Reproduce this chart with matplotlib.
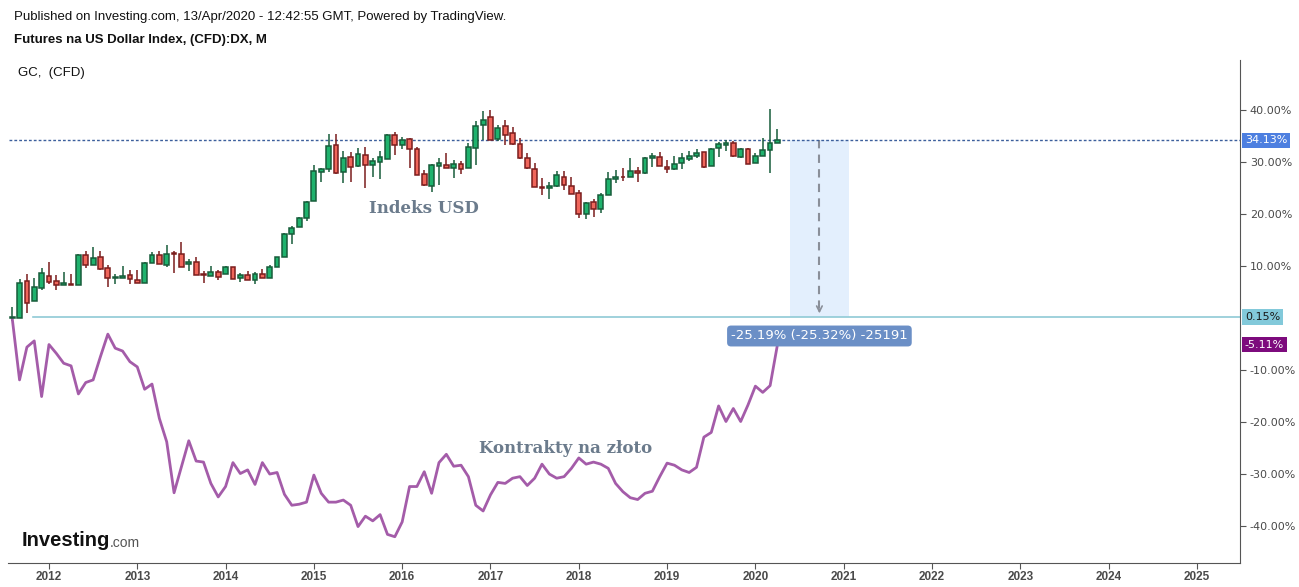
import matplotlib
matplotlib.use("Agg")
import matplotlib.pyplot as plt
import numpy as np
import pandas as pd

# monthly bars, Aug 2011 .. Apr 2020, values in % change
months = pd.date_range("2011-08-01", periods=105, freq="MS")

usd_open = [0, 0.06, 7.05, 3.2, 5.8, 8.0, 7.05, 6.3, 6.5, 6.3, 12.2, 10.1, 11.7, 9.55, 7.75, 7.75, 8.2, 7.25, 6.7, 10.5,
            12.05, 10.1, 12.5, 12.4, 10.3, 10.7,
            8.35, 8.15, 8.8, 8.4, 9.75, 7.6, 8.2, 7.25, 8.45, 7.6, 9.9, 11.65, 16.1, 17.45, 19.2, 22.4, 28.0, 28.6, 33.2, 28.0,
            30.9, 29.2, 31.3, 29.35, 29.9, 30.5, 35.1,
            33.2, 34.5, 32.4, 27.6, 25.3, 29.2, 29.35, 28.8, 29.55, 28.8, 32.6, 37.05, 38.6, 34.35, 36.9, 35.5, 33.4, 30.7,
            28.6, 25.1, 24.9, 25.3, 27.2, 25.3, 24.0, 19.9,
            22.25, 20.9, 23.6, 26.7, 27.2, 27.2, 28.2, 27.8, 30.7, 30.9, 29.0, 28.6, 29.75, 30.5, 31.1, 31.9, 29.2, 32.6,
            33.2, 33.6, 30.9, 32.4, 29.75, 31.1, 32.25, 33.6]
usd_close = [0, 6.7, 2.8, 5.9, 8.6, 7.0, 6.3, 6.7, 6.3, 12.05, 10.1, 11.5, 9.5, 7.75, 7.8, 8.0, 7.55, 6.8, 10.5, 12.05,
             10.3, 12.4, 12.4, 9.9, 10.7, 8.2,
             8.3, 8.8, 7.95, 9.75, 7.45, 8.2, 7.25, 8.4, 7.6, 9.9, 11.65, 16.1, 17.25, 19.2, 22.25, 28.2, 28.6, 33.0, 27.8,
             30.7, 29.0, 31.5, 29.35, 30.1, 30.9, 35.1, 33.2,
             34.3, 32.4, 27.55, 25.5, 29.35, 29.75, 28.8, 29.55, 28.6, 32.8, 36.9, 38.0, 34.2, 36.5, 35.1, 33.4, 30.7,
             28.8, 25.1, 24.9, 25.3, 27.4, 25.5, 23.8, 19.9, 22.05,
             21.0, 23.6, 26.7, 27.2, 27.05, 28.2, 27.8, 30.7, 31.15, 29.2, 28.6, 29.55, 30.7, 31.1, 31.7, 29.0, 32.4,
             33.4, 33.6, 31.1, 32.4, 29.55, 31.1, 32.25, 33.6, 34.13]
usd_high = [2.2, 7.5, 8.5, 7.6, 9.55, 10.7, 8.3, 8.8, 8.5, 12.3, 12.8, 13.65, 12.8, 10.2, 8.5, 10.0, 9.2, 9.2, 10.7, 12.6,
            12.9, 14.0, 12.8, 14.55, 11.35, 11.7,
            9.0, 10.0, 9.2, 10.0, 9.75, 8.6, 9.0, 8.8, 9.35, 10.2, 11.65, 16.4, 17.6, 19.35, 22.4, 29.35, 28.8, 35.4, 35.4,
            32.05, 31.9, 32.7, 32.8, 30.7, 32.05, 35.3, 35.7,
            34.75, 34.7, 32.95, 28.4, 29.55, 30.7, 31.7, 30.3, 30.1, 33.6, 37.8, 39.7, 40.0, 37.2, 38.0, 36.7, 34.55, 31.7,
            29.75, 26.9, 26.1, 28.2, 28.2, 27.05, 24.55, 22.25,
            22.8, 24.0, 28.0, 28.4, 28.8, 30.7, 29.0, 30.9, 31.7, 31.9, 30.3, 31.1, 31.7, 32.2, 32.4, 31.9, 32.6, 33.8,
            34.2, 34.0, 32.6, 32.6, 31.7, 34.55, 40.1, 36.3]
usd_low = [-0.5, 0.0, 1.0, 3.2, 5.45, 6.5, 5.45, 6.3, 6.3, 6.3, 9.7, 10.1, 9.3, 6.0, 6.6, 7.75, 6.6, 6.8, 6.7, 10.5,
           10.3, 9.9, 8.7, 9.9, 9.1, 8.2,
           6.8, 8.15, 7.4, 8.4, 7.45, 7.0, 7.25, 6.6, 7.6, 7.6, 9.75, 11.65, 14.2, 17.45, 18.6, 22.4, 26.1, 28.0, 27.6,
           25.9, 26.1, 29.0, 24.9, 27.2, 26.7, 30.5, 31.3,
           32.4, 28.8, 27.4, 25.4, 24.2, 25.6, 28.8, 27.0, 27.6, 28.8, 29.5, 34.2, 34.2, 34.0, 33.2, 33.2, 30.5, 28.6,
           25.1, 23.6, 22.8, 25.1, 24.7, 23.8, 19.2, 19.0,
           19.5, 20.1, 23.6, 25.9, 26.3, 27.2, 26.1, 27.6, 29.0, 29.2, 27.8, 28.4, 28.6, 30.1, 30.7, 28.8, 29.2, 30.9,
           32.05, 30.9, 30.7, 29.55, 29.75, 31.1, 27.8, 33.6]
gold = [0, -11.9, -5.6, -4.4, -15.1, -5.1, -6.8, -8.7, -9.2, -14.6, -12.4, -11.9, -7.4, -3.1, -5.8, -6.35, -8.4, -9.4,
        -13.7, -12.7, -19.3, -23.8, -33.6, -28.6, -23.6, -27.5,
        -27.7, -31.8, -34.4, -32.4, -27.8, -29.9, -29.2, -32.0, -27.8, -30.0, -29.7, -33.9, -36.0, -35.8, -35.4, -30.2,
        -33.7, -35.4, -35.4, -35.0, -36.0, -40.1, -38.1, -39.0, -37.8, -41.6, -42.05,
        -39.2, -32.4, -32.4, -29.55, -33.7, -27.8, -26.2, -28.5, -28.3, -30.5, -36.0, -37.1, -34.0, -31.6, -31.8, -30.8,
        -30.5, -32.2, -30.8, -28.1, -30.0, -30.8, -30.5, -28.9, -26.9, -28.1,
        -27.7, -28.1, -28.9, -31.8, -33.4, -34.55, -34.9, -33.7, -33.3, -30.5, -27.9, -28.3, -29.2, -29.7, -28.7, -22.9,
        -22.0, -16.9, -19.9, -17.4, -19.9, -16.7, -13.1, -14.3, -13.0, -5.11]

year_ticks = list(range(2012, 2026))
y_ticks = [40, 30, 20, 10, -10, -20, -30, -40]
last_usd = 34.13
base_level = 0.15
last_gold = -5.11
measure_text = "-25.19% (-25.32%) -25191"

x = months.year + (months.month - 1) / 12.0
o = np.array(usd_open)
c = np.array(usd_close)
h = np.array(usd_high)
l = np.array(usd_low)

fig = plt.figure(figsize=(12.99, 5.87), dpi=100)
ax = fig.add_axes([8 / 1299, 24 / 587, (1240 - 8) / 1299, (563 - 60) / 587])

ax.set_xlim(2011.536, 2025.488)
ax.set_ylim(-47.1, 49.6)

# measure tool box
mx0, mx1 = 2020.39, 2021.06
ax.fill_between([mx0, mx1], base_level, last_usd, color="#e3effd", lw=0, zorder=1)
mxc = (mx0 + mx1) / 2
ax.plot([mxc, mxc], [last_usd, base_level + 0.6], ls=(0, (4, 3)), color="#8a8f99", lw=1.5, zorder=2)
ax.annotate("", xy=(mxc, base_level + 0.2), xytext=(mxc, base_level + 2.0),
            arrowprops=dict(arrowstyle="->", color="#8a8f99", lw=1.2), zorder=2)

# level lines
ax.plot([2011.55, 2025.488], [last_usd, last_usd], ls=(0, (2, 1.5)), color="#3c5f9c", lw=1, zorder=2)
ax.plot([2011.82, 2025.488], [base_level, base_level], color="#8fcad6", lw=1.2, zorder=2)

# candles
up = c >= o
body_w = 0.054
for col, edge, mask in [("#1fb26d", "#175c3a", up), ("#f0665b", "#7a1d1d", ~up)]:
    ax.vlines(x[mask], l[mask], h[mask], color=edge, lw=1.1, zorder=3)
    bottom = np.minimum(o, c)[mask]
    height = np.maximum(np.abs(c - o)[mask], 0.12)
    ax.bar(x[mask], height, bottom=bottom, width=body_w, color=col, edgecolor=edge, lw=1.1, zorder=4)

# gold line
ax.plot(x, gold, color="#a45ca9", lw=2, zorder=3)

# axes styling
for s in ["left", "top"]:
    ax.spines[s].set_visible(False)
ax.spines["right"].set_color("#555555")
ax.spines["bottom"].set_color("#555555")
ax.yaxis.tick_right()
ax.set_yticks(y_ticks)
ax.set_yticklabels(["%.2f%%" % v for v in y_ticks], fontsize=8, color="#4a4a4a", family="DejaVu Sans")
ax.set_xticks(year_ticks)
ax.set_xticklabels([str(v) for v in year_ticks], fontsize=8.5, color="#4a4a4a", fontweight="bold",
                   family="Liberation Sans")
ax.tick_params(axis="y", direction="out", length=4, pad=3, color="#555555")
ax.tick_params(axis="x", direction="out", length=4, pad=1.5, color="#555555")

# axis value labels
yt = ax.get_yaxis_transform()
ax.text(1.004, last_usd, "%.2f%%" % last_usd, transform=yt, fontsize=8, color="white", va="center", ha="left",
        bbox=dict(boxstyle="square,pad=0.25", fc="#4d7fe0", ec="none"), zorder=6)
ax.text(1.004, base_level, "%.2f%%" % base_level, transform=yt, fontsize=8, color="#1a1a1a", va="center",
        ha="left", bbox=dict(boxstyle="square,pad=0.25", fc="#82c9da", ec="none"), zorder=6)
ax.text(1.004, last_gold, "%.2f%%" % last_gold, transform=yt, fontsize=8, color="white", va="center", ha="left",
        bbox=dict(boxstyle="square,pad=0.25", fc="#7d0b7d", ec="none"), zorder=6)

# measure label
ax.text(mxc, -3.46, measure_text, fontsize=9.5, color="white", ha="center", va="center",
        bbox=dict(boxstyle="round,pad=0.3,rounding_size=0.3", fc="#6b8fc6", ec="none"), zorder=6)

# annotations
ax.text(2016.25, 21.1, "Indeks USD", fontsize=12, fontweight="bold", family="DejaVu Serif",
        color="#6b7b8c", ha="center", va="center")
ax.text(2017.85, -25.0, "Kontrakty na złoto", fontsize=12, fontweight="bold", family="DejaVu Serif",
        color="#6b7b8c", ha="center", va="center")

# header texts
fig.text(14 / 1299, 1 - 17 / 587, "Published on Investing.com, 13/Apr/2020 - 12:42:55 GMT, Powered by TradingView.",
         fontsize=9.5, family="Liberation Sans", color="#111111", va="center")
fig.text(14 / 1299, 1 - 40 / 587, "Futures na US Dollar Index, (CFD):DX, M", fontsize=9.5,
         family="Liberation Sans", fontweight="bold", color="#111111", va="center")
fig.text(18 / 1299, 1 - 73 / 587, "GC,  (CFD)", fontsize=9.5, family="Liberation Sans", color="#111111",
         va="center")

# logo
fig.text(22 / 1299, 1 - 541 / 587, "Investing", fontsize=14.5, family="Liberation Sans", fontweight="bold",
         color="#111111", va="center")
fig.text(110 / 1299, 1 - 543 / 587, ".com", fontsize=10, family="Liberation Sans", color="#555555",
         va="center")

fig.savefig("out.png", dpi=100)
